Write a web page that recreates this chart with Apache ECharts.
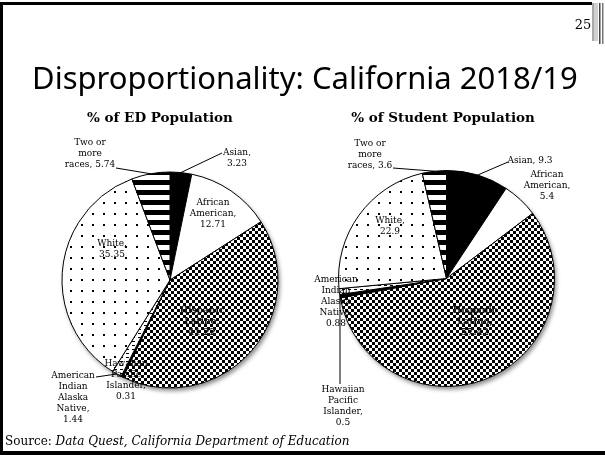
<!DOCTYPE html>
<html><head><meta charset="utf-8">
<script src="https://cdn.jsdelivr.net/npm/echarts@6/dist/echarts.min.js"></script>
<style>html,body{margin:0;padding:0;background:#fff}#c{width:605px;height:455px}</style>
</head><body><div id="c"></div>
<script>
// ---- data ----
const categories = ['Asian','African American','Hispanic Latino','Hawaiian Pacific Islander','American Indian Alaska Native','White','Two or more races'];
const labelNames = ['Asian','African\nAmerican','Hispanic\nLatino','Hawaiian\nPacific\nIslander','American\nIndian\nAlaska\nNative','White','Two or\nmore\nraces'];
const edValues = [3.23, 12.71, 41.22, 0.31, 1.44, 35.35, 5.74];
const studentValues = [9.3, 5.4, 57.42, 0.5, 0.88, 22.9, 3.6];
const chartTitles = ['% of ED Population', '% of Student Population'];
const mainTitle = 'Disproportionality: California 2018/19';
const pageNumber = '25';
const sourcePrefix = 'Source: ';
const sourceText = 'Data Quest, California Department of Education';

// ---- layout / style ----
const edSeps = ['\n','\n','\n','\n','\n','\n',' '];
const stSeps = [' ','\n','\n','\n','\n','\n',' '];
const R = 108;
const edCenter = [170, 280];
const stCenter = [446.5, 278.5];
const edLayout = [
  {pos:[237,158], anchor:[222,153]},
  {pos:[213,214]},
  {pos:[202,322], dark:true},
  {pos:[126,380]},
  {pos:[73,398], anchor:[96,377]},
  {pos:[112,249]},
  {pos:[90,154], anchor:[116,168]}
];
const stLayout = [
  {pos:[530,161], anchor:[508,162]},
  {pos:[547,186]},
  {pos:[475,322], dark:true},
  {pos:[343,406], anchor:[340,384]},
  {pos:[336,302]},
  {pos:[390,226]},
  {pos:[370,155], anchor:[393,168]}
];

function makePattern(type){
  const c = document.createElement('canvas');
  let w=6,h=6;
  if(type==='stripes'){w=10;h=10;}
  if(type==='dots'){w=11;h=11;}
  if(type==='dashes'){w=6;h=4;}
  c.width=w;c.height=h;
  const ctx=c.getContext('2d');
  ctx.fillStyle='#fff';ctx.fillRect(0,0,w,h);
  ctx.fillStyle='#000';
  if(type==='checker'){ctx.fillRect(0,0,3,3);ctx.fillRect(3,3,3,3);}
  else if(type==='stripes'){ctx.fillRect(0,0,10,5);}
  else if(type==='dots'){ctx.fillRect(4,4,2,2);}
  else if(type==='dashes'){ctx.fillRect(0,1,3,1);}
  return {image:c, repeat:'repeat'};
}
const fills = ['#000000', '#ffffff', makePattern('checker'), '#000000', makePattern('dashes'), makePattern('dots'), makePattern('stripes')];

function edgePoint(values, idx, center){
  const total = values.reduce((a,b)=>a+b,0);
  let cum = 0;
  for(let i=0;i<idx;i++) cum += values[i];
  const mid = (cum + values[idx]/2)/total*2*Math.PI;
  return [center[0] + R*Math.sin(mid), center[1] - R*Math.cos(mid)];
}

const serif = '"DejaVu Serif", Georgia, serif';

function pieSeries(values, seps, center, layout){
  return {
    type:'pie', center:center, radius:R, startAngle:90, clockwise:true,
    avoidLabelOverlap:false, animation:false, z:3,
    itemStyle:{borderColor:'#000', borderWidth:1},
    data: values.map((v,i)=>({
      name:categories[i], value:v,
      itemStyle:{color:fills[i]},
      label: layout[i].dark ? {color:'#1a1a1a', fontWeight:'bold'} : undefined,
      labelLine:{show: !!layout[i].anchor}
    })),
    label:{show:true, overflow:'none', fontFamily:serif, fontSize:9, lineHeight:11, color:'#000',
      formatter: p => labelNames[p.dataIndex] + ',' + seps[p.dataIndex] + p.value},
    labelLine:{show:true, length:4, length2:4, lineStyle:{color:'#000', width:1}},
    emphasis:{disabled:true},
    labelLayout: function(p){
      const L = layout[p.dataIndex];
      const res = {x:L.pos[0], y:L.pos[1], align:'center', verticalAlign:'middle'};
      if(L.anchor){
        const e = edgePoint(values, p.dataIndex, center);
        res.labelLinePoints = [e, L.anchor, L.anchor];
      }
      return res;
    }
  };
}
function shadowSeries(center){
  return {type:'pie', center:center, radius:R, silent:true, animation:false, z:1,
    label:{show:false}, labelLine:{show:false},
    itemStyle:{color:'#fff', shadowColor:'rgba(0,0,0,0.45)', shadowBlur:4, shadowOffsetX:2, shadowOffsetY:3},
    data:[{value:1, name:'bg'}]};
}

// title size fit
const titleFont = '"Noto Sans", "DejaVu Sans", sans-serif';
const mc = document.createElement('canvas').getContext('2d');
mc.font = '100px ' + titleFont;
const titleSize = Math.round(100*546/mc.measureText(mainTitle).width*10)/10;

const chart = echarts.init(document.getElementById('c'), null, {renderer:'canvas'});
chart.setOption({
  backgroundColor:'#fff',
  animation:false,
  series:[shadowSeries(edCenter), shadowSeries(stCenter),
    pieSeries(edValues, edSeps, edCenter, edLayout),
    pieSeries(studentValues, stSeps, stCenter, stLayout)],
  graphic:[
    {type:'rect', shape:{x:0,y:2,width:592,height:3}, style:{fill:'#000'}},
    {type:'rect', shape:{x:0,y:2,width:3,height:453}, style:{fill:'#000'}},
    {type:'rect', shape:{x:0,y:451,width:605,height:4}, style:{fill:'#000'}},
    {type:'rect', shape:{x:592,y:3,width:2,height:38}, style:{fill:'#aaa'}},
    {type:'rect', shape:{x:594,y:3,width:4,height:38}, style:{fill:'#d0d0d0'}},
    {type:'rect', shape:{x:599,y:3,width:1.5,height:41}, style:{fill:'#444'}},
    {type:'rect', shape:{x:602,y:3,width:1.5,height:41}, style:{fill:'#777'}},
    {type:'text', x:583, y:26, style:{text:pageNumber, font:'13px '+serif, fill:'#000', align:'center', verticalAlign:'middle'}},
    {type:'text', x:32, y:80, style:{text:mainTitle, font:titleSize+'px '+titleFont, fill:'#000', align:'left', verticalAlign:'middle'}},
    {type:'text', x:160, y:118, style:{text:chartTitles[0], font:'bold 13.5px '+serif, fill:'#000', align:'center', verticalAlign:'middle'}},
    {type:'text', x:443, y:118, style:{text:chartTitles[1], font:'bold 13.5px '+serif, fill:'#000', align:'center', verticalAlign:'middle'}},
    {type:'text', x:5, y:442, style:{text:'{a|'+sourcePrefix+'}{b|'+sourceText+'}', verticalAlign:'middle',
      rich:{a:{fontFamily:serif, fontSize:12, color:'#000'}, b:{fontFamily:serif, fontSize:12, fontStyle:'italic', color:'#000'}}}}
  ]
});
</script>
</body></html>
